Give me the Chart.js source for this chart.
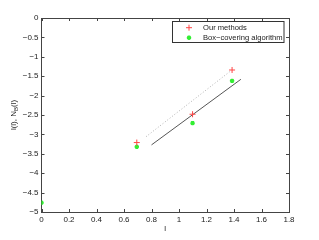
<!DOCTYPE html>
<html><head><meta charset="utf-8">
<script src="https://cdn.jsdelivr.net/npm/chart.js@4"></script>
<style>html,body{margin:0;padding:0;background:#fff}#wrap{width:319px;height:240px}</style>
</head><body><div id="wrap"><canvas id="c" width="319" height="240"></canvas></div>
<script>
const xTicks = [0,0.2,0.4,0.6,0.8,1,1.2,1.4,1.6,1.8];
const xTickLabels = ['0','0.2','0.4','0.6','0.8','1','1.2','1.4','1.6','1.8'];
const yTicks = [0,-0.5,-1,-1.5,-2,-2.5,-3,-3.5,-4,-4.5,-5];
const yTickLabels = ['0','\u22120.5','\u22121','\u22121.5','\u22122','\u22122.5','\u22123','\u22123.5','\u22124','\u22124.5','\u22125'];
const seriesNames = ['Our methods','Box\u2212covering algorithm'];
const oursX = [0.693,1.0986,1.386];
const oursY = [-3.21,-2.48,-1.34];
const boxX = [0,0.693,1.0986,1.386];
const boxY = [-4.76,-3.32,-2.71,-1.62];
const fitOursX = [0.76,1.37];
const fitOursY = [-3.06,-1.38];
const fitBoxX = [0.8,1.45];
const fitBoxY = [-3.27,-1.58];
const pts = (xs,ys)=>xs.map((x,i)=>({x:x,y:ys[i]}));

const FAM = '"Liberation Sans", Arial, sans-serif';
const FONT = '8px ' + FAM;
const AX = '#444';

const tickPlugin = {
  id:'ticksIn',
  afterDraw(chart){
    const ctx = chart.ctx, a = chart.chartArea, sx = chart.scales.x, sy = chart.scales.y;
    ctx.save();
    ctx.strokeStyle = AX; ctx.lineWidth = 1;
    const L = 3;
    xTicks.forEach(v=>{
      const p = Math.round(sx.getPixelForValue(v))+0.5;
      ctx.beginPath(); ctx.moveTo(p,a.bottom); ctx.lineTo(p,a.bottom-L);
      ctx.moveTo(p,a.top); ctx.lineTo(p,a.top+L); ctx.stroke();
    });
    yTicks.forEach(v=>{
      const p = Math.round(sy.getPixelForValue(v))+0.5;
      ctx.beginPath(); ctx.moveTo(a.left,p); ctx.lineTo(a.left+L,p);
      ctx.moveTo(a.right,p); ctx.lineTo(a.right-L,p); ctx.stroke();
    });
    // y title with subscript
    ctx.fillStyle = '#222';
    ctx.translate(14,(a.top+a.bottom)/2);
    ctx.rotate(-Math.PI/2);
    const p1 = 'l(l), N', p2 = 'B', p3 = '(l)';
    const sf = '6px ' + FAM;
    ctx.font = FONT; const w1 = ctx.measureText(p1).width, w3 = ctx.measureText(p3).width;
    ctx.font = sf; const w2 = ctx.measureText(p2).width;
    let x0 = -(w1+w2+w3)/2;
    ctx.textBaseline='middle'; ctx.textAlign='left';
    ctx.font = FONT; ctx.fillText(p1,x0,0);
    ctx.font = sf; ctx.fillText(p2,x0+w1,2.5);
    ctx.font = FONT; ctx.fillText(p3,x0+w1+w2,0);
    ctx.restore();
    // legend
    ctx.save();
    ctx.fillStyle='#fff'; ctx.strokeStyle='#333'; ctx.lineWidth=1;
    ctx.fillRect(172.5,21.5,111.5,21); ctx.strokeRect(172.5,21.5,111.5,21);
    ctx.font = '7.6px ' + FAM; ctx.textBaseline='middle'; ctx.textAlign='left';
    const ys=[27.7,37.7];
    [0,1].forEach(i=>{
      const ds = chart.data.datasets[i];
      ctx.strokeStyle = ds.borderColor; ctx.fillStyle = ds.backgroundColor; ctx.lineWidth = ds.borderWidth;
      Chart.helpers.drawPoint(ctx,{pointStyle:ds.pointStyle,radius:ds.pointRadius,borderWidth:ds.borderWidth},189,ys[i]);
      ctx.fillStyle='#222';
      ctx.fillText(seriesNames[i],203,ys[i]);
    });
    ctx.restore();
  }
};

const tickFont = {family:FAM,size:8};
new Chart(document.getElementById('c'),{
  type:'scatter',
  data:{datasets:[
    {label:seriesNames[0],data:pts(oursX,oursY),pointStyle:'cross',pointRadius:3,borderWidth:1,borderColor:'rgb(255,70,70)',backgroundColor:'rgb(255,70,70)',showLine:false},
    {label:seriesNames[1],data:pts(boxX,boxY),pointStyle:'star',pointRadius:2.2,borderWidth:1.5,borderColor:'#33ee33',backgroundColor:'#33ee33',showLine:false},
    {label:'fit1',data:pts(fitOursX,fitOursY),showLine:true,pointRadius:0,borderColor:'#b0b0b0',borderWidth:1,borderDash:[1,2]},
    {label:'fit2',data:pts(fitBoxX,fitBoxY),showLine:true,pointRadius:0,borderColor:'#555',borderWidth:1}
  ]},
  options:{
    responsive:false,animation:false,devicePixelRatio:1,
    layout:{padding:0},
    plugins:{legend:{display:false},tooltip:{enabled:false}},
    scales:{
      x:{type:'linear',position:'bottom',min:0,max:1.8,
        afterBuildTicks:s=>{s.ticks=xTicks.map(v=>({value:v}));},
        afterFit:s=>{s.height=28;},
        grid:{display:false,drawTicks:false},border:{display:true,color:AX,width:1},
        ticks:{font:tickFont,color:'#222',padding:3,maxRotation:0,autoSkip:false,
          callback:(v,i)=>xTickLabels[i]},
        title:{display:true,text:'l',font:tickFont,color:'#222',padding:{top:0,bottom:6}}},
      x2:{type:'linear',position:'top',min:0,max:1.8,afterFit:s=>{s.height=18;},
        grid:{display:false,drawTicks:false},border:{display:true,color:AX,width:1},ticks:{display:false}},
      y:{type:'linear',position:'left',min:-5,max:0,
        afterBuildTicks:s=>{s.ticks=yTicks.map(v=>({value:v}));},
        afterFit:s=>{s.width=41.5;},
        grid:{display:false,drawTicks:false},border:{display:true,color:AX,width:1},
        ticks:{font:tickFont,color:'#222',padding:3,autoSkip:false,
          callback:(v,i)=>yTickLabels[i]}},
      y2:{type:'linear',position:'right',min:-5,max:0,afterFit:s=>{s.width=30;},
        grid:{display:false,drawTicks:false},border:{display:true,color:AX,width:1},ticks:{display:false}}
    }
  },
  plugins:[tickPlugin]
});
</script></body></html>
